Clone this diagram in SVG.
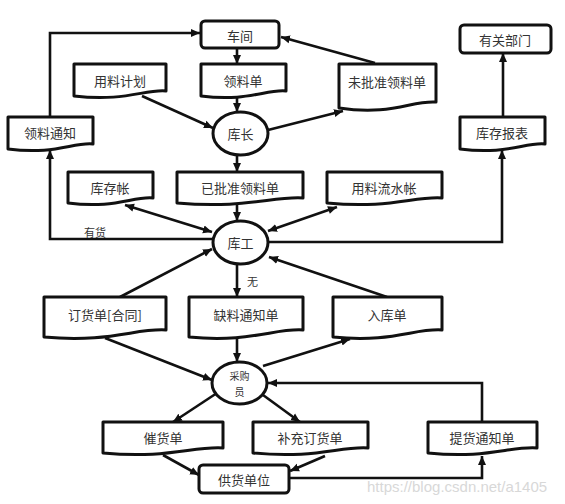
<svg xmlns="http://www.w3.org/2000/svg" width="565" height="504" viewBox="0 0 565 504">
<style>
.box{fill:#fff;stroke:#111;stroke-width:3}
.doc{fill:#fff;stroke:#111;stroke-width:3;stroke-linejoin:round}
.t{font-family:"Noto Sans CJK SC","Noto Sans",sans-serif;font-size:13px;fill:#333;text-anchor:middle;dominant-baseline:central}
.c{fill:none;stroke:#111;stroke-width:2.6}
.ce{marker-end:url(#ah)}
.cb{marker-end:url(#ah);marker-start:url(#ahs)}
.lbl{font-family:"Noto Sans CJK SC","Noto Sans",sans-serif;font-size:11px;fill:#333}
.wm{font-family:"Liberation Sans",Arial,sans-serif;font-size:15px;fill:#d8d8d8}
</style>
<defs>
<marker id="ah" markerUnits="userSpaceOnUse" markerWidth="10" markerHeight="10" refX="9" refY="5" orient="auto"><path d="M0,1 L9,5 L0,9 Z" fill="#111"/></marker>
<marker id="ahs" markerUnits="userSpaceOnUse" markerWidth="10" markerHeight="10" refX="0" refY="5" orient="auto"><path d="M9,1 L0,5 L9,9 Z" fill="#111"/></marker>
</defs>
<rect width="565" height="504" fill="#fff"/>
<g id="connectors">
<polyline class="c ce" points="50,117 50,33 200,33"/>
<line class="c ce" x1="237" y1="48" x2="237" y2="64"/>
<line class="c ce" x1="237" y1="96" x2="237" y2="112"/>
<line class="c ce" x1="142" y1="96" x2="213" y2="128"/>
<line class="c ce" x1="268" y1="130" x2="343" y2="111"/>
<line class="c ce" x1="375" y1="63" x2="281" y2="37"/>
<line class="c ce" x1="237" y1="155" x2="237" y2="172"/>
<line class="c ce" x1="503" y1="117" x2="503" y2="53"/>
<polyline class="c ce" points="213,239 50,239 50,150"/>
<polyline class="c ce" points="268,242 502,242 502,150"/>
<line class="c cb" x1="125" y1="205" x2="212" y2="232"/>
<line class="c ce" x1="237" y1="204" x2="237" y2="221"/>
<line class="c cb" x1="337" y1="207" x2="268" y2="231"/>
<line class="c ce" x1="120" y1="297" x2="212" y2="249"/>
<line class="c ce" x1="387" y1="297" x2="269" y2="257"/>
<line class="c ce" x1="237" y1="264" x2="237" y2="297"/>
<line class="c ce" x1="105" y1="338" x2="212" y2="380"/>
<line class="c ce" x1="237" y1="338" x2="237" y2="362"/>
<line class="c ce" x1="263" y1="366" x2="350" y2="339"/>
<polyline class="c ce" points="482,422 482,383 268,383"/>
<line class="c ce" x1="217" y1="393" x2="173" y2="422"/>
<line class="c ce" x1="263" y1="395" x2="300" y2="422"/>
<line class="c ce" x1="163" y1="455" x2="199" y2="475"/>
<line class="c ce" x1="325" y1="456" x2="290" y2="471"/>
<polyline class="c ce" points="289,478 482,478 482,456"/>
<text class="lbl" x="84" y="237">有货</text>
<text class="lbl" x="247" y="286">无</text>
</g>
<g id="n-chejian"><rect class="box" x="201" y="21" width="78" height="27" rx="4"/><text class="t" x="240" y="35">车间</text></g>
<g id="n-youguanbumen"><rect class="box" x="460" y="25" width="91" height="28" rx="4"/><text class="t" x="505" y="39">有关部门</text></g>
<g id="n-yongliaojihua"><path class="doc" d="M74,64 H166 V91 C145,89 125,102 74,96 Z"/><text class="t" x="120" y="80">用料计划</text></g>
<g id="n-lingliaodan"><path class="doc" d="M201,64 H286 V91 C266,89 248,102 201,96 Z"/><text class="t" x="243" y="80">领料单</text></g>
<g id="n-weipizhun"><path class="doc" d="M339,64 H436 V102 C412,100 392,116 339,108 Z"/><text class="t" x="387" y="81">未批准领料单</text></g>
<g id="n-kuzhang"><ellipse class="box" cx="240.5" cy="133.5" rx="27.5" ry="21.5"/><text class="t" x="240.5" y="133.5">库长</text></g>
<g id="n-lingliaotongzhi"><path class="doc" d="M8,117 H93 V144 C73,142 55,155 8,149 Z"/><text class="t" x="50" y="132">领料通知</text></g>
<g id="n-kucunbaobiao"><path class="doc" d="M460,117 H545 V144 C525,142 507,155 460,149 Z"/><text class="t" x="502" y="132">库存报表</text></g>
<g id="n-kucunzhang"><path class="doc" d="M68,172 H153 V198 C133,196 115,209 68,203 Z"/><text class="t" x="110" y="187">库存帐</text></g>
<g id="n-yipizhun"><path class="doc" d="M177,172 H303 V198 C273,196 245,209 177,203 Z"/><text class="t" x="240" y="187">已批准领料单</text></g>
<g id="n-yongliaoliushui"><path class="doc" d="M327,172 H442 V198 C414,196 390,209 327,203 Z"/><text class="t" x="384" y="187">用料流水帐</text></g>
<g id="n-kugong"><ellipse class="box" cx="240.5" cy="242.5" rx="27.5" ry="21.5"/><text class="t" x="240.5" y="242.5">库工</text></g>
<g id="n-dinghuodan"><path class="doc" d="M44,297 H166 V330 C136,328 110,343 44,337 Z"/><text class="t" x="105" y="314">订货单[合同]</text></g>
<g id="n-queliao"><path class="doc" d="M189,297 H303 V330 C275,328 250,343 189,337 Z"/><text class="t" x="246" y="314">缺料通知单</text></g>
<g id="n-rukudan"><path class="doc" d="M333,297 H442 V330 C415,328 392,343 333,337 Z"/><text class="t" x="387" y="314">入库单</text></g>
<g id="n-caigouyuan"><ellipse class="box" cx="239.5" cy="383" rx="27.5" ry="21"/><text class="t" x="239.5" y="375.5" style="font-size:10px">采购</text><text class="t" x="239.5" y="391.5" style="font-size:10px">员</text></g>
<g id="n-cuihuodan"><path class="doc" d="M103,422 H223 V448 C193,446 168,459 103,453 Z"/><text class="t" x="163" y="437">催货单</text></g>
<g id="n-buchong"><path class="doc" d="M253,422 H368 V448 C340,446 316,459 253,453 Z"/><text class="t" x="310" y="437">补充订货单</text></g>
<g id="n-tihuo"><path class="doc" d="M428,422 H537 V448 C510,446 487,459 428,453 Z"/><text class="t" x="482" y="437">提货通知单</text></g>
<g id="n-gonghuo"><rect class="box" x="199" y="465" width="90" height="28" rx="4"/><text class="t" x="244" y="479">供货单位</text></g>
<text class="wm" x="367" y="492">https://blog.csdn.net/a1405</text>
</svg>
